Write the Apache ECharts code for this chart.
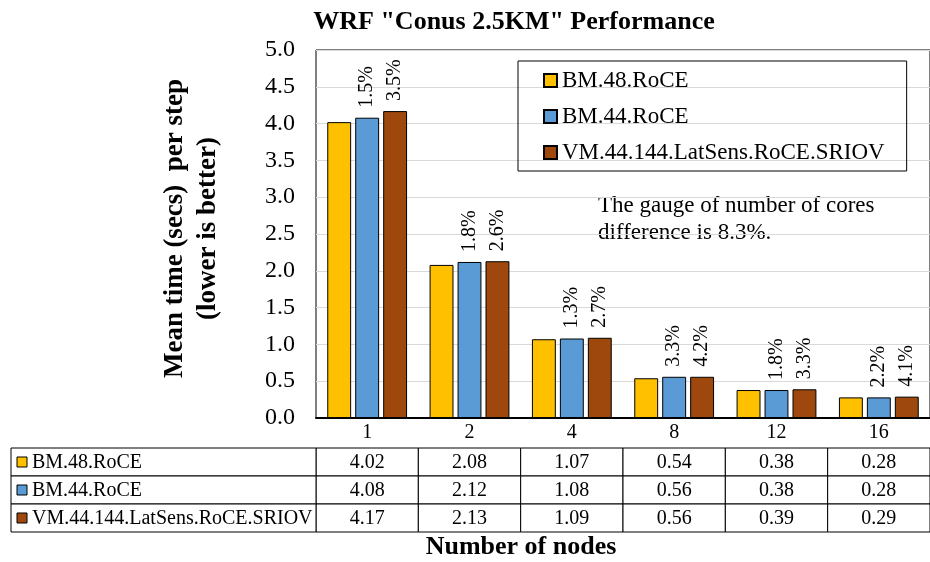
<!DOCTYPE html>
<html>
<head>
<meta charset="utf-8">
<script src="https://cdn.jsdelivr.net/npm/echarts@6/dist/echarts.min.js"></script>
<style>
  html, body { margin: 0; padding: 0; background: #fff; }
  #chart { width: 930px; height: 562px; }
</style>
</head>
<body>
<div id="chart"></div>
<script>
// chart data
const nodes = ["1", "2", "4", "8", "12", "16"];
const seriesNames = ["BM.48.RoCE", "BM.44.RoCE", "VM.44.144.LatSens.RoCE.SRIOV"];
const bm48 = [4.02, 2.08, 1.07, 0.54, 0.38, 0.28];
const bm44 = [4.08, 2.12, 1.08, 0.56, 0.38, 0.28];
const vm44 = [4.17, 2.13, 1.09, 0.56, 0.39, 0.29];
const bm44Diff = ["1.5%", "1.8%", "1.3%", "3.3%", "1.8%", "2.2%"];
const vm44Diff = ["3.5%", "2.6%", "2.7%", "4.2%", "3.3%", "4.1%"];
const colors = ["#FFC000", "#5B9BD5", "#9E480E"];

const FONT = "Liberation Serif";
const chart = echarts.init(document.getElementById("chart"));

// rows for the data table under the plot
const allValues = [bm48, bm44, vm44];
const tableData = [];
allValues.forEach((vals, j) => {
    vals.forEach((v, i) => tableData.push([i, j, v]));
});

const LABEL_COL = 305;

function renderCell(params, api) {
    const i = api.value(0);
    const j = api.value(1);
    const c = api.coord([i, j]);
    const s = api.size([1, 1]);
    const x = c[0] - s[0] / 2;
    const y = c[1] - s[1] / 2;
    const children = [
        {
            type: "rect",
            shape: { x: x, y: y, width: s[0], height: s[1] },
            style: { fill: "#fff", stroke: "#000", lineWidth: 1 },
        },
        {
            type: "text",
            style: {
                x: c[0], y: c[1] + 1,
                text: api.value(2).toFixed(2),
                textAlign: "center", textVerticalAlign: "middle",
                font: "20px '" + FONT + "'", fill: "#000",
            },
        },
    ];
    if (i === 0) {
        const lx = params.coordSys.x - LABEL_COL;
        children.push(
            {
                type: "rect",
                shape: { x: lx, y: y, width: LABEL_COL, height: s[1] },
                style: { fill: "#fff", stroke: "#000", lineWidth: 1 },
            },
            {
                type: "rect",
                shape: { x: lx + 6, y: c[1] - 5, width: 10, height: 10 },
                style: { fill: colors[j], stroke: "#000", lineWidth: 1 },
            },
            {
                type: "text",
                style: {
                    x: lx + 21, y: c[1] + 1,
                    text: seriesNames[j],
                    textAlign: "left", textVerticalAlign: "middle",
                    font: "20px '" + FONT + "'", fill: "#000",
                },
            }
        );
    }
    return { type: "group", children: children };
}

function barSeries(idx, data, labels) {
    return {
        name: seriesNames[idx],
        type: "bar",
        data: data,
        barGap: "17%",
        barCategoryGap: "22%",
        itemStyle: { color: colors[idx], borderColor: "#000", borderWidth: 1 },
        label: {
            show: !!labels,
            position: "top",
            rotate: 90,
            align: "left",
            verticalAlign: "middle",
            distance: 10,
            fontFamily: FONT,
            fontSize: 20,
            color: "#000",
            formatter: (p) => (labels ? labels[p.dataIndex] : ""),
        },
    };
}

const options = {
    animation: false,
    textStyle: { fontFamily: FONT },
    grid: [
        { left: 316, right: -1, top: 50, bottom: 144, show: true, borderColor: "#000", borderWidth: 1 },
        { left: 316, right: -1, top: 448, height: 84 },
    ],
    legend: {
        data: seriesNames,
        orient: "vertical",
        left: 518,
        top: 61,
        padding: [8, 22, 7, 25],
        borderColor: "#000",
        borderWidth: 1,
        itemWidth: 13,
        itemHeight: 13,
        itemGap: 13,
        icon: "rect",
        textStyle: { fontFamily: FONT, fontSize: 23, lineHeight: 23, color: "#000" },
    },
    xAxis: [
        {
            type: "category",
            data: nodes,
            axisLine: { lineStyle: { color: "#000", width: 2 } },
            axisTick: { length: 30, lineStyle: { color: "#000", width: 1 } },
            axisLabel: { fontFamily: FONT, fontSize: 20, color: "#000", margin: 5 },
        },
        { type: "category", data: nodes, gridIndex: 1, show: false },
    ],
    yAxis: [
        {
            type: "value",
            min: 0,
            max: 5,
            interval: 0.5,
            name: "Mean time (secs)  per step\n(lower is better)",
            nameLocation: "middle",
            nameGap: 91,
            nameTextStyle: {
                fontFamily: FONT, fontSize: 27, fontWeight: "bold", lineHeight: 33, color: "#000",
                padding: [0, 0, 0, 11],
            },
            axisLine: { show: false },
            axisTick: { show: false },
            splitLine: { lineStyle: { color: "#d9d9d9", width: 1 } },
            axisLabel: {
                fontFamily: FONT, fontSize: 24, color: "#000", margin: 21,
                formatter: (v) => v.toFixed(1),
            },
        },
        { type: "category", data: seriesNames, gridIndex: 1, inverse: true, show: false },
    ],
    graphic: [
        {
            type: "text", x: 514, y: 22,
            style: {
                text: 'WRF "Conus 2.5KM" Performance', textAlign: "center", textVerticalAlign: "middle",
                font: "bold 26px '" + FONT + "'", fill: "#000",
            },
        },
        {
            type: "text", x: 521, y: 547,
            style: {
                text: "Number of nodes", textAlign: "center", textVerticalAlign: "middle",
                font: "bold 26px '" + FONT + "'", fill: "#000",
            },
        },
        {
            type: "text", x: 598, y: 219,
            style: {
                text: "The gauge of number of cores\ndifference is 8.3%.", textAlign: "left", textVerticalAlign: "middle",
                font: "23px '" + FONT + "'", lineHeight: 27, fill: "#000",
            },
        },
    ],
    series: [
        barSeries(0, bm48, null),
        barSeries(1, bm44, bm44Diff),
        barSeries(2, vm44, vm44Diff),
        {
            name: "table",
            type: "custom",
            xAxisIndex: 1,
            yAxisIndex: 1,
            clip: false,
            silent: true,
            renderItem: renderCell,
            data: tableData,
        },
    ],
};

chart.setOption(options);
window.addEventListener("resize", () => {
    chart.resize();
});
</script>
</body>
</html>
